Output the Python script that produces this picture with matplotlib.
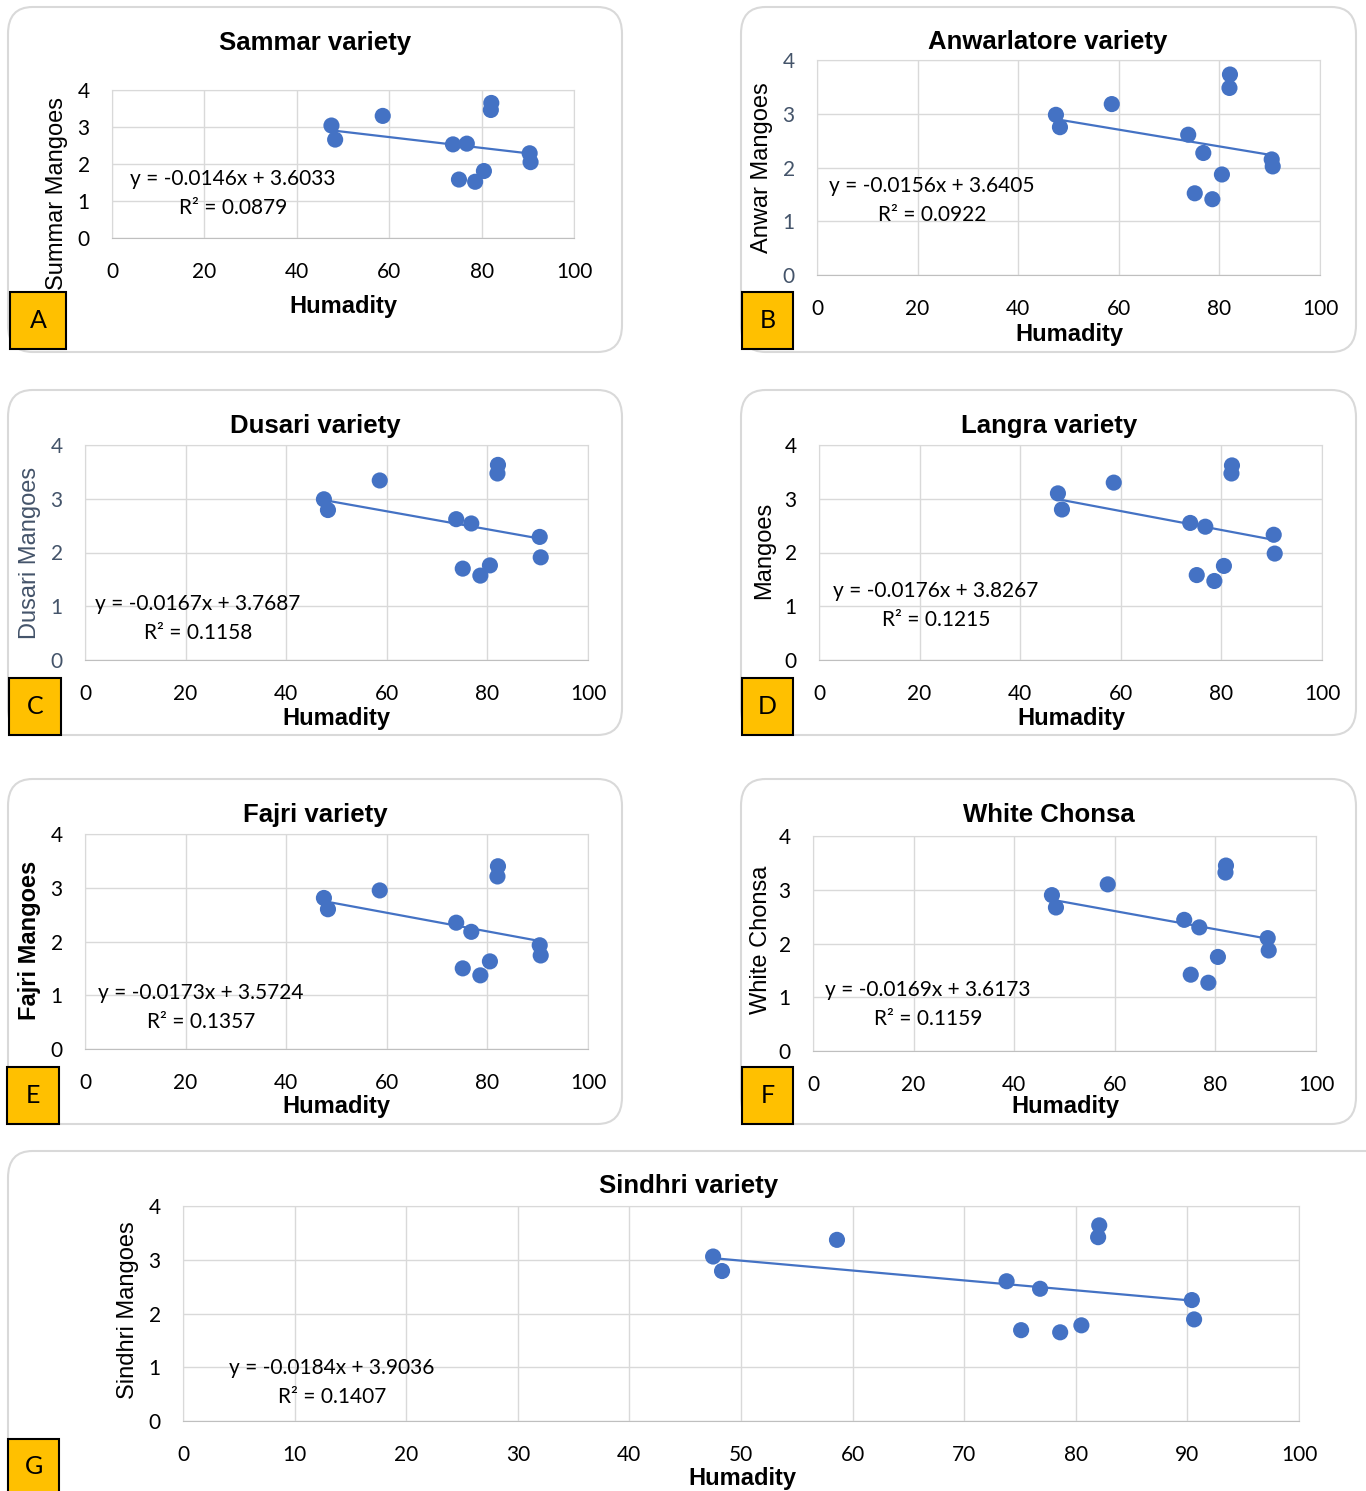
import numpy as np
import matplotlib
matplotlib.use("Agg")
import matplotlib.pyplot as plt
from matplotlib.patches import FancyBboxPatch, Rectangle

plt.rcParams['font.family'] = ['Lato', 'DejaVu Sans']

# humidity shared by every panel
humidity = [47.5, 48.3, 58.6, 73.8, 75.1, 76.8, 78.6, 80.5, 82.1, 82.0, 90.4, 90.6]

sammar = [3.04, 2.66, 3.30, 2.53, 1.58, 2.55, 1.52, 1.81, 3.65, 3.46, 2.29, 2.05]
anwar = [2.98, 2.75, 3.18, 2.61, 1.52, 2.27, 1.41, 1.87, 3.73, 3.48, 2.15, 2.02]
dusari = [2.99, 2.79, 3.34, 2.62, 1.70, 2.54, 1.57, 1.76, 3.63, 3.47, 2.29, 1.91]
langra = [3.10, 2.80, 3.30, 2.55, 1.58, 2.48, 1.47, 1.75, 3.62, 3.47, 2.33, 1.98]
fajri = [2.81, 2.60, 2.95, 2.35, 1.50, 2.18, 1.37, 1.63, 3.40, 3.21, 1.93, 1.74]
white_chonsa = [2.90, 2.67, 3.10, 2.44, 1.42, 2.30, 1.27, 1.75, 3.45, 3.32, 2.10, 1.87]
sindhri = [3.06, 2.79, 3.37, 2.60, 1.69, 2.46, 1.65, 1.78, 3.64, 3.42, 2.25, 1.89]

series = [sammar, anwar, dusari, langra, fajri, white_chonsa, sindhri]
titles = ['Sammar variety', 'Anwarlatore variety', 'Dusari variety', 'Langra variety',
          'Fajri variety', 'White Chonsa', 'Sindhri variety']
ylabels = ['Summar Mangoes', 'Anwar Mangoes', 'Dusari Mangoes', 'Mangoes',
           'Fajri Mangoes', 'White Chonsa', 'Sindhri Mangoes']
letters = ['A', 'B', 'C', 'D', 'E', 'F', 'G']
slopes = [-0.0146, -0.0156, -0.0167, -0.0176, -0.0173, -0.0169, -0.0184]
intercepts = [3.6033, 3.6405, 3.7687, 3.8267, 3.5724, 3.6173, 3.9036]
r2 = ['0.0879', '0.0922', '0.1158', '0.1215', '0.1357', '0.1159', '0.1407']
x_ticks_small = [0, 20, 40, 60, 80, 100]
x_ticks_big = [0, 10, 20, 30, 40, 50, 60, 70, 80, 90, 100]
y_ticks = [0, 1, 2, 3, 4]

W, H = 1366, 1491
fig = plt.figure(figsize=(W / 100, H / 100), dpi=100)

# layout in pixels
boxes = [(8, 7, 622, 352), (741, 7, 1356, 352), (8, 390, 622, 735), (741, 390, 1356, 735),
         (8, 779, 622, 1124), (741, 779, 1356, 1124), (8, 1151, 1390, 1520)]
axes_px = [(112, 90, 574, 238), (817, 60, 1320, 275), (85, 445, 588, 660), (819, 445, 1322, 660),
           (85, 834, 588, 1049), (813, 836, 1316, 1051), (183, 1206, 1299, 1421)]
title_px = [(315, 43), (1048, 42), (315, 426), (1049, 426), (315, 815), (1049, 815), (689, 1186)]
ylab_px = [(57, 193), (762, 168), (30, 553), (764, 550), (30, 940), (761, 940), (128, 1310)]
xlab_px = [(343, 306), (1069, 335), (336, 718), (1071, 718), (336, 1107), (1065, 1107), (742, 1478)]
eq_px = [(130, 179), (829, 186), (95, 604), (833, 591), (98, 993), (825, 990), (229, 1368)]
letter_px = [(10, 292, 66, 349), (742, 292, 793, 349), (9, 678, 61, 735), (742, 678, 793, 735),
             (7, 1067, 59, 1124), (742, 1067, 793, 1124), (8, 1439, 59, 1495)]
ytick_col = ['black', '#44546A', '#44546A', 'black', 'black', 'black', 'black']
ylab_col = ['black', 'black', '#44546A', 'black', 'black', 'black', 'black']
ylab_bold = [False, False, False, False, True, False, False]


def fpos(x, y):
    return x / W, 1 - y / H


for i in range(7):
    x0, y0, x1, y1 = boxes[i]
    fig.patches.append(FancyBboxPatch((x0 / W, 1 - y1 / H), (x1 - x0) / W, (y1 - y0) / H,
                                      boxstyle="round,pad=0,rounding_size=0.018",
                                      transform=fig.transFigure, facecolor='white',
                                      edgecolor='#D9D9D9', linewidth=1.5, zorder=-10))

    ax0, ay0, ax1, ay1 = axes_px[i]
    ax = fig.add_axes([ax0 / W, 1 - ay1 / H, (ax1 - ax0) / W, (ay1 - ay0) / H], zorder=2)
    ax.patch.set_alpha(0)
    y = series[i]
    ax.scatter(humidity, y, s=135, color='#4472C4', zorder=3, edgecolors='none', clip_on=False)
    xl = np.array([min(humidity), max(humidity)])
    ax.plot(xl, slopes[i] * xl + intercepts[i], color='#4472C4', lw=1.6, zorder=2)
    ax.set_xlim(0, 100)
    ax.set_ylim(0, 4)
    xt = x_ticks_big if i == 6 else x_ticks_small
    ax.set_xticks(xt)
    ax.set_yticks(y_ticks)
    ax.grid(True, color='#D9D9D9', lw=1)
    ax.set_axisbelow(True)
    for s in ['top', 'right', 'left']:
        ax.spines[s].set_color('#D9D9D9')
    ax.spines['bottom'].set_color('#BFBFBF')
    ax.tick_params(length=0, labelsize=15)
    ax.tick_params(axis='x', pad=17, labelcolor='black')
    ax.tick_params(axis='y', pad=16, labelcolor=ytick_col[i])

    tx, ty = fpos(*title_px[i])
    fig.text(tx, ty, titles[i], ha='center', va='center', fontsize=18.5, fontweight='bold',
             family='Liberation Sans')
    lx, ly = fpos(*ylab_px[i])
    fig.text(lx, ly, ylabels[i], ha='center', va='center', rotation=90, fontsize=17,
             family='Liberation Sans', color=ylab_col[i],
             fontweight='bold' if ylab_bold[i] else 'normal')
    hx, hy = fpos(*xlab_px[i])
    fig.text(hx, hy, 'Humadity', ha='center', va='center', fontsize=17, fontweight='bold',
             family='Liberation Sans')
    ex, ey = fpos(*eq_px[i])
    fig.text(ex, ey, 'y = %.4fx + %.4f' % (slopes[i], intercepts[i]), ha='left', va='center',
             fontsize=15, zorder=5)
    ex2, ey2 = fpos(eq_px[i][0] + 49, eq_px[i][1] + 29)
    fig.text(ex2, ey2, 'R² = ' + r2[i], ha='left', va='center', fontsize=15, zorder=5)

    bx0, by0, bx1, by1 = letter_px[i]
    fig.patches.append(Rectangle((bx0 / W, 1 - by1 / H), (bx1 - bx0) / W, (by1 - by0) / H,
                                 transform=fig.transFigure, facecolor='#FFC000',
                                 edgecolor='black', linewidth=1.5, zorder=5))
    cx, cy = fpos((bx0 + bx1) / 2, (by0 + by1) / 2)
    fig.text(cx, cy, letters[i], ha='center', va='center', fontsize=18, zorder=6)

plt.savefig('out.png', dpi=100)
